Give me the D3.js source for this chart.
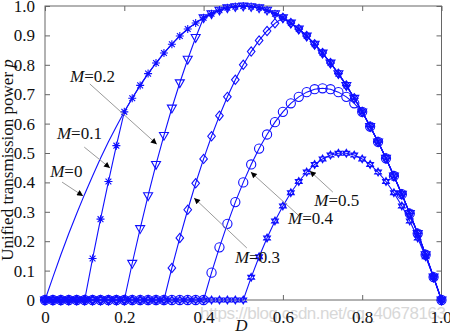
<!DOCTYPE html>
<html>
<head>
<meta charset="utf-8">
<script src="https://cdn.jsdelivr.net/npm/d3@7"></script>
<style>
  html, body { margin: 0; padding: 0; background: #fff; }
  svg { display: block; }
</style>
</head>
<body>
<svg id="chart" width="450" height="333"></svg>
<script>
// Duty ratio D (sample points of every curve)
const dValues = [0,0.02,0.04,0.06,0.08,0.1,0.12,0.14,0.16,0.18,0.2,0.22,0.24,0.26,0.28,0.3,0.32,0.34,0.36,0.38,0.4,0.42,0.44,0.46,0.48,0.5,0.52,0.54,0.56,0.58,0.6,0.62,0.64,0.66,0.68,0.7,0.72,0.74,0.76,0.78,0.8,0.82,0.84,0.86,0.88,0.9,0.92,0.94,0.96,0.98,1];

// Unified transmission power p for each modulation value M
const pM0 = [0,0.078,0.154,0.226,0.294,0.36,0.422,0.482,0.538,0.59,0.64,0.686,0.73,0.77,0.806,0.84,0.87,0.898,0.922,0.942,0.96,0.974,0.986,0.994,0.998,1,0.998,0.994,0.986,0.974,0.96,0.942,0.922,0.898,0.87,0.84,0.806,0.77,0.73,0.686,0.64,0.59,0.538,0.482,0.422,0.36,0.294,0.226,0.154,0.078,0];
const pM01 = [0,0,0,0,0,0,0.141,0.275,0.403,0.525,0.64,0.686,0.73,0.77,0.806,0.84,0.87,0.898,0.922,0.942,0.96,0.974,0.986,0.994,0.998,1,0.998,0.994,0.986,0.974,0.96,0.942,0.922,0.898,0.87,0.84,0.806,0.77,0.73,0.686,0.64,0.59,0.538,0.482,0.422,0.36,0.294,0.226,0.154,0.078,0];
const pM02 = [0,0,0,0,0,0,0,0,0,0,0,0.125,0.243,0.355,0.461,0.56,0.653,0.739,0.819,0.893,0.96,0.974,0.986,0.994,0.998,1,0.998,0.994,0.986,0.974,0.96,0.942,0.922,0.898,0.87,0.84,0.806,0.77,0.73,0.686,0.64,0.59,0.538,0.482,0.422,0.36,0.294,0.226,0.154,0.078,0];
const pM03 = [0,0,0,0,0,0,0,0,0,0,0,0,0,0,0,0,0.109,0.211,0.307,0.397,0.48,0.557,0.627,0.691,0.749,0.8,0.845,0.883,0.915,0.941,0.96,0.942,0.922,0.898,0.87,0.84,0.806,0.77,0.73,0.686,0.64,0.59,0.538,0.482,0.422,0.36,0.294,0.226,0.154,0.078,0];
const pM04 = [0,0,0,0,0,0,0,0,0,0,0,0,0,0,0,0,0,0,0,0,0,0.093,0.179,0.259,0.333,0.4,0.461,0.515,0.563,0.605,0.64,0.669,0.691,0.707,0.717,0.72,0.717,0.707,0.691,0.669,0.64,0.59,0.538,0.482,0.422,0.36,0.294,0.226,0.154,0.078,0];
const pM05 = [0,0,0,0,0,0,0,0,0,0,0,0,0,0,0,0,0,0,0,0,0,0,0,0,0,0,0.077,0.147,0.211,0.269,0.32,0.365,0.403,0.435,0.461,0.48,0.493,0.499,0.499,0.493,0.48,0.461,0.435,0.403,0.365,0.32,0.269,0.211,0.147,0.077,0];

// Tick values and labels
const xTicks = [0,0.2,0.4,0.6,0.8,1.0];
const xTickLabels = ["0","0.2","0.4","0.6","0.8","1.0"];
const yTicks = [0,0.1,0.2,0.3,0.4,0.5,0.6,0.7,0.8,0.9,1.0];
const yTickLabels = ["0","0.1","0.2","0.3","0.4","0.5","0.6","0.7","0.8","0.9","1.0"];

// Curve labels: M value, label anchor and arrow target in data units
const labelNames = ["0","0.1","0.2","0.3","0.4","0.5"];
const labelPos = [[0.013,0.42],[0.03,0.546],[0.063,0.74],[0.479,0.126],[0.613,0.26],[0.679,0.32]];
const arrowFrom = [[0.043,0.401],[0.099,0.52],[0.113,0.735],[0.509,0.177],[0.641,0.286],[0.726,0.367]];
const arrowTo = [[0.096,0.354],[0.164,0.449],[0.282,0.53],[0.376,0.347],[0.519,0.435],[0.668,0.439]];

const blue = "#0f0fff";
const serif = "'Liberation Serif','Times New Roman',serif";

const svg = d3.select("#chart");
const x = d3.scaleLinear().domain([0,1]).range([45,441.5]);
const y = d3.scaleLinear().domain([0,1]).range([300,6]);

// Faint URL text along the bottom edge
svg.append("text")
  .attr("x", 200).attr("y", 319)
  .attr("textLength", 246)
  .attr("font-family", "'Liberation Sans',Arial,sans-serif")
  .attr("font-size", 17)
  .attr("fill", "#d8d8d8")
  .text("https://blog.csdn.net/qq_40678163");

// Frame
const axisColor = "#666";
svg.append("rect")
  .attr("x", x(0)).attr("y", y(1))
  .attr("width", x(1)-x(0)).attr("height", y(0)-y(1))
  .attr("fill", "none").attr("stroke", axisColor).attr("stroke-width", 1);

// Axes with inward ticks on all four sides
const tickLen = 5;
const gBottom = svg.append("g").attr("transform", `translate(0,${y(0)})`)
  .call(d3.axisBottom(x).tickValues(xTicks).tickSizeInner(-tickLen).tickSizeOuter(0).tickPadding(tickLen+6)
    .tickFormat((d,i) => xTickLabels[i]));
const gTop = svg.append("g").attr("transform", `translate(0,${y(1)})`)
  .call(d3.axisTop(x).tickValues(xTicks).tickSizeInner(-tickLen).tickSizeOuter(0).tickFormat(""));
const gLeft = svg.append("g").attr("transform", `translate(${x(0)},0)`)
  .call(d3.axisLeft(y).tickValues(yTicks).tickSizeInner(-tickLen).tickSizeOuter(0).tickPadding(tickLen+5)
    .tickFormat((d,i) => yTickLabels[i]));
const gRight = svg.append("g").attr("transform", `translate(${x(1)},0)`)
  .call(d3.axisRight(y).tickValues(yTicks).tickSizeInner(-tickLen).tickSizeOuter(0).tickFormat(""));

[gBottom, gTop, gLeft, gRight].forEach(g => {
  g.select(".domain").remove();
  g.selectAll(".tick line").attr("stroke", axisColor);
  g.selectAll("text").attr("font-family", serif).attr("font-size", 17).attr("fill", "#111");
});
gBottom.selectAll("text").filter((d,i) => i === xTicks.length - 1).attr("dx", -1);

// Marker shapes for each curve
const markerPaths = {
  asterisk: "M-4,0H4M0,-4V4M-2.9,-2.9L2.9,2.9M-2.9,2.9L2.9,-2.9",
  triangleDown: "M-4.5,-2.9L4.5,-2.9L0,4.9Z",
  diamond: "M0,-4.6L3.8,0L0,4.6L-3.8,0Z",
  hexagram: "M0,-3.9L3.4,1.95L-3.4,1.95ZM0,3.9L3.4,-1.95L-3.4,-1.95Z"
};

const series = [
  { values: pM0, marker: null },
  { values: pM01, marker: "asterisk" },
  { values: pM02, marker: "triangleDown" },
  { values: pM03, marker: "diamond" },
  { values: pM04, marker: "circle" },
  { values: pM05, marker: "hexagram" }
];

const line = d3.line().x(d => x(d[0])).y(d => y(d[1]));

series.forEach(s => {
  const pts = dValues.map((d,i) => [d, s.values[i]]);
  const g = svg.append("g");
  g.append("path").attr("d", line(pts))
    .attr("fill", "none").attr("stroke", blue).attr("stroke-width", 1.1);
  if (s.marker === "circle") {
    g.selectAll("circle").data(pts).join("circle")
      .attr("cx", d => x(d[0])).attr("cy", d => y(d[1])).attr("r", 4.6)
      .attr("fill", "none").attr("stroke", blue).attr("stroke-width", 1.1);
  } else if (s.marker) {
    g.selectAll("path.m").data(pts).join("path").attr("class", "m")
      .attr("transform", d => `translate(${x(d[0])},${y(d[1])})`)
      .attr("d", markerPaths[s.marker])
      .attr("fill", "none").attr("stroke", blue).attr("stroke-width", 1.1);
  }
});

// Curve labels with arrows
const defs = svg.append("defs");
defs.append("marker").attr("id", "head")
  .attr("viewBox", "0 0 10 10").attr("refX", 10).attr("refY", 5)
  .attr("markerWidth", 8).attr("markerHeight", 6).attr("markerUnits", "userSpaceOnUse")
  .attr("orient", "auto")
  .append("path").attr("d", "M0,0L10,5L0,10Z").attr("fill", "#000");

labelNames.forEach((name, i) => {
  svg.append("line")
    .attr("x1", x(arrowFrom[i][0])).attr("y1", y(arrowFrom[i][1]))
    .attr("x2", x(arrowTo[i][0])).attr("y2", y(arrowTo[i][1]))
    .attr("stroke", "#9a9a9a").attr("stroke-width", 1)
    .attr("marker-end", "url(#head)");
  const t = svg.append("text")
    .attr("x", x(labelPos[i][0])).attr("y", y(labelPos[i][1]))
    .attr("font-family", serif).attr("font-size", 17).attr("fill", "#111");
  t.append("tspan").attr("font-style", "italic").text("M");
  t.append("tspan").text("=" + name);
});

// Axis titles
svg.append("text")
  .attr("transform", `translate(13,160) rotate(-90)`)
  .attr("text-anchor", "middle")
  .attr("font-family", serif).attr("font-size", 17).attr("fill", "#111")
  .call(t => {
    t.append("tspan").text("Unified transmission power ");
    t.append("tspan").attr("font-style", "italic").text("p");
  });

svg.append("text")
  .attr("x", x(0.495)).attr("y", 331)
  .attr("text-anchor", "middle")
  .attr("font-family", serif).attr("font-size", 17).attr("font-style", "italic").attr("fill", "#111")
  .text("D");
</script>
</body>
</html>
